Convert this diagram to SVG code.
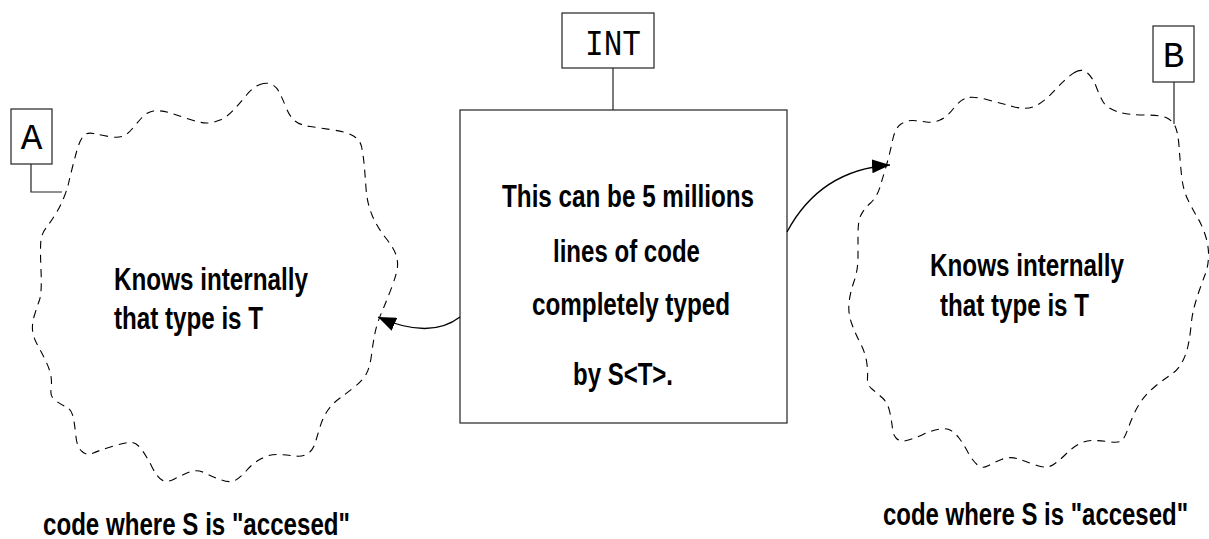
<svg xmlns="http://www.w3.org/2000/svg" width="1209" height="539" viewBox="0 0 1209 539">
<style>
.box{fill:#fff;stroke:#222;stroke-width:1.2}
.lead{fill:none;stroke:#222;stroke-width:1.2}
.blob{fill:none;stroke:#000;stroke-width:1.1;stroke-dasharray:8,6}
.conn{fill:none;stroke:#000;stroke-width:1.3}
.t{font-family:"Liberation Sans",Arial,sans-serif;font-weight:bold;font-size:31px;fill:#000}
.m{font-family:"Liberation Mono","Courier New",monospace;font-size:36px;fill:#000}
</style>
<defs>
<marker id="ah" markerUnits="userSpaceOnUse" markerWidth="20" markerHeight="14" refX="18" refY="7" orient="auto">
<path d="M0,0 L18,7 L0,14 Z" fill="#000"/>
</marker>
</defs>
<rect width="1209" height="539" fill="#fff"/>
<g id="blobA">
<path class="blob" d="M260,84.5 Q267,82 272,84.5 Q277,87 280,93.5 Q283,100 286.5,108.5 Q290,117 295,121 Q300,125 310,126.5 Q320,128 333.5,130 Q347,132 353.5,136 Q360,140 361.5,146.5 Q363,153 364,163 Q365,173 366,188 Q367,203 372,215 Q377,227 385,237 Q393,247 395.5,253.5 Q398,260 397.5,266.5 Q397,273 392,286.5 Q387,300 382,311.5 Q377,323 375,333 Q373,343 371.5,355 Q370,367 366.5,373.5 Q363,380 355,386.5 Q347,393 340,398 Q333,403 328,410 Q323,417 320,427 Q317,437 315,443.5 Q313,450 308,453.5 Q303,457 295,456 Q287,455 278.5,454.5 Q270,454 261.5,458.5 Q253,463 246.5,470.5 Q240,478 235,480.5 Q230,483 221.5,480 Q213,477 205,473 Q197,469 189.5,472 Q182,475 174.5,479 Q167,483 162,480 Q157,477 152,467 Q147,457 142,450 Q137,443 132,442.5 Q127,442 113.5,446 Q100,450 93.5,453 Q87,456 82,451.5 Q77,447 76,437 Q75,427 73.5,418.5 Q72,410 67,407.5 Q62,405 56,401 Q50,397 51,390 Q52,383 51,376.5 Q50,370 46,361.5 Q42,353 37.5,345 Q33,337 32.5,330 Q32,323 34.5,315 Q37,307 39.5,300 Q42,293 41,270 Q40,247 41,240 Q42,233 46,228 Q50,223 55,215 Q60,207 63.5,198.5 Q67,190 68.5,183.5 Q70,177 72.5,167 Q75,157 77.5,148.5 Q80,140 83.5,136 Q87,132 93.5,133.5 Q100,135 108.5,136.5 Q117,138 122,136.5 Q127,135 132,129 Q137,123 142,117.5 Q147,112 153.5,111 Q160,110 168.5,112.5 Q177,115 188.5,119 Q200,123 206.5,123 Q213,123 220,120 Q227,117 233.5,110 Q240,103 246.5,95 Q253,87 260,84.5 Z"/>
<text class="t" x="114" y="290" textLength="194" lengthAdjust="spacingAndGlyphs">Knows internally</text>
<text class="t" x="114" y="329" textLength="149" lengthAdjust="spacingAndGlyphs">that type is T</text>
<text class="t" x="43" y="535" textLength="307" lengthAdjust="spacingAndGlyphs">code where S is "accesed"</text>
</g>
<g id="labelA">
<rect class="box" x="11" y="109" width="41" height="55"/>
<text class="m" x="31.5" y="149" text-anchor="middle">A</text>
<path class="lead" d="M31,164 V192 H62"/>
</g>
<g id="blobB">
<path class="blob" d="M1074.5,72.5 Q1082,68 1087.5,73 Q1093,78 1096.5,87.5 Q1100,97 1103.5,102.5 Q1107,108 1117,111.5 Q1127,115 1143.5,115 Q1160,115 1166,117.5 Q1172,120 1175,126 Q1178,132 1179,146 Q1180,160 1181.5,175 Q1183,190 1188,200 Q1193,210 1198,218.5 Q1203,227 1206,237.5 Q1209,248 1208.5,257.5 Q1208,267 1205.5,273.5 Q1203,280 1200,288.5 Q1197,297 1194.5,306 Q1192,315 1191,326 Q1190,337 1188,346 Q1186,355 1182,362.5 Q1178,370 1170.5,375 Q1163,380 1155,386.5 Q1147,393 1142,400 Q1137,407 1133.5,415 Q1130,423 1127.5,430 Q1125,437 1122.5,440 Q1120,443 1111.5,442 Q1103,441 1095,440.5 Q1087,440 1080,443.5 Q1073,447 1066.5,453.5 Q1060,460 1053.5,464.5 Q1047,469 1037,465.5 Q1027,462 1018.5,459 Q1010,456 1001.5,459.5 Q993,463 987.5,466 Q982,469 977,464.5 Q972,460 967.5,451.5 Q963,443 959,438 Q955,433 951,430.5 Q947,428 940,429 Q933,430 923,434.5 Q913,439 906.5,440.5 Q900,442 896.5,438.5 Q893,435 892.5,429 Q892,423 890,413 Q888,403 882.5,398 Q877,393 872,389 Q867,385 867.5,377.5 Q868,370 866.5,361 Q865,352 860,342.5 Q855,333 851.5,323 Q848,313 849,303 Q850,293 854,281.5 Q858,270 858,257.5 Q858,245 858,233.5 Q858,222 860.5,216 Q863,210 870,203.5 Q877,197 880,187 Q883,177 886.5,165 Q890,153 892.5,140.5 Q895,128 901,124 Q907,120 913.5,120.5 Q920,121 926.5,122 Q933,123 940,120 Q947,117 953.5,108.5 Q960,100 966.5,98 Q973,96 986.5,99.5 Q1000,103 1012.5,106.5 Q1025,110 1034,106.5 Q1043,103 1055,90 Q1067,77 1074.5,72.5 Z"/>
<text class="t" x="930" y="276" textLength="194" lengthAdjust="spacingAndGlyphs">Knows internally</text>
<text class="t" x="940" y="316" textLength="149" lengthAdjust="spacingAndGlyphs">that type is T</text>
<text class="t" x="883" y="525" textLength="305" lengthAdjust="spacingAndGlyphs">code where S is "accesed"</text>
</g>
<g id="labelB">
<rect class="box" x="1153" y="26" width="41" height="56"/>
<text class="m" x="1173.5" y="67" text-anchor="middle">B</text>
<path class="lead" d="M1174,82 V124"/>
</g>
<g id="core">
<rect class="box" x="460" y="110" width="327" height="313"/>
<text class="t" x="502" y="207" textLength="252" lengthAdjust="spacingAndGlyphs">This can be 5 millions</text>
<text class="t" x="553" y="262" textLength="147" lengthAdjust="spacingAndGlyphs">lines of code</text>
<text class="t" x="532" y="315" textLength="198" lengthAdjust="spacingAndGlyphs">completely typed</text>
<text class="t" x="573" y="385" textLength="100" lengthAdjust="spacingAndGlyphs">by S&lt;T&gt;.</text>
</g>
<g id="labelINT">
<rect class="box" x="562" y="13" width="92" height="55"/>
<text class="m" x="613" y="55" text-anchor="middle" textLength="56" lengthAdjust="spacingAndGlyphs">INT</text>
<path class="lead" d="M613,68 V110"/>
</g>
<g id="connectors">
<path class="conn" d="M460,317 Q430,340 378,317" marker-end="url(#ah)"/>
<path class="conn" d="M787,232 Q820,170 890,165" marker-end="url(#ah)"/>
</g>
</svg>
